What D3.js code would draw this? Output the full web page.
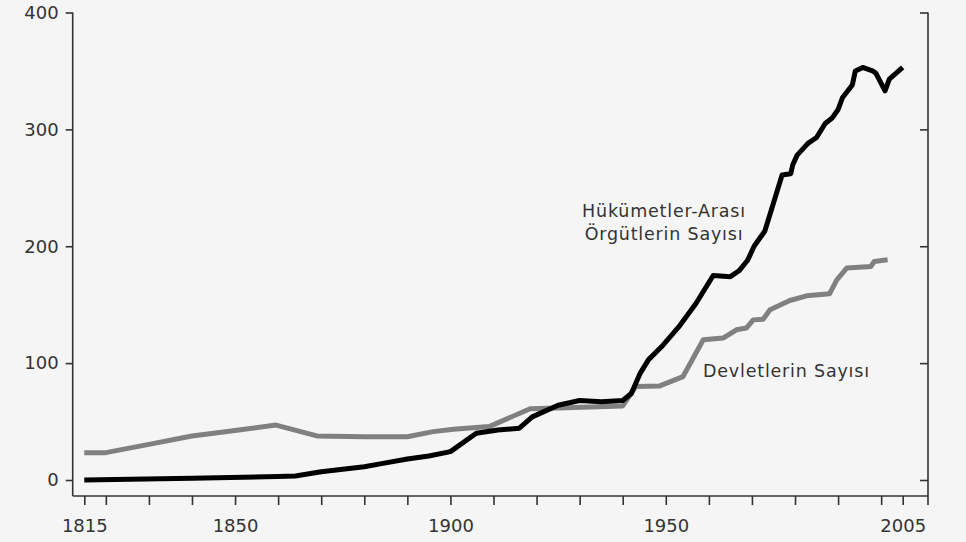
<!DOCTYPE html>
<html>
<head>
<meta charset="utf-8">
<script src="https://cdn.jsdelivr.net/npm/d3@7"></script>
<style>
  html, body { margin: 0; padding: 0; background: #f5f5f5; }
  svg { display: block; }
  .tick text { font-family: "DejaVu Sans", sans-serif; font-size: 18px; fill: #333; }
  .lbl { font-family: "DejaVu Sans", sans-serif; font-size: 17.5px; fill: #333; letter-spacing: 0.8px; }
</style>
</head>
<body>
<script>
// Hükümetler-arası örgütler (IGO)
const igoYears = [1815, 1840, 1860, 1864, 1870, 1880, 1884, 1890, 1895, 1900, 1906, 1911, 1916, 1919, 1925,
    1930, 1935, 1940, 1942, 1944, 1946, 1949, 1953, 1957, 1961, 1965, 1967, 1969, 1970.5, 1973, 1975, 1977,
    1979, 1979.5, 1980.5, 1983, 1985, 1987, 1988.7, 1990, 1991, 1993.3, 1994, 1995.7, 1998, 1998.8, 2000.9,
    2001.9, 2005];
const igoValues = [0, 1.4, 2.9, 3.4, 7, 11.4, 14, 18, 20.6, 24.3, 40, 42.8, 44.3, 54, 64,
    68, 67, 68, 74, 91, 103, 114, 131, 151, 175, 174, 179, 188, 200, 213, 237, 261,
    262, 270, 278, 288, 293, 305, 310, 317, 327, 338, 350, 353, 350, 348, 333,
    343, 353];

// Devletler
const stateYears = [1815, 1820, 1830, 1840, 1850, 1859.5, 1869, 1880, 1890, 1896, 1900.7, 1909, 1918.5, 1925,
    1940, 1943, 1948.6, 1954, 1958.7, 1963.3, 1966.4, 1968.7, 1970.3, 1972.6, 1974.2, 1978.8, 1982.7, 1988,
    1989.7, 1992, 1997.6, 1998.4, 2001.5];
const stateValues = [23.4, 23.4, 30.5, 37.7, 42.3, 47, 37.7, 37, 37, 41.4, 43.4, 45.7, 61, 61.5,
    63.4, 80, 80.5, 88.5, 120, 121.4, 128.5, 130, 137, 137.6, 145.6, 153.6, 157.6, 159.3,
    171.3, 181.3, 182.7, 187, 188.4];

const xTicks = [1815, 1820, 1830, 1840, 1850, 1860, 1870, 1880, 1890, 1900, 1910, 1920, 1930, 1940, 1950,
    1960, 1970, 1980, 1990, 2000, 2005];
const xLabels = [1815, 1850, 1900, 1950, 2005];
const yTicks = [0, 100, 200, 300, 400];

const W = 966, H = 542;
const fLeft = 72.7, fRight = 928, fTop = 12.5, fBottom = 496;

const svg = d3.select("body").append("svg").attr("width", W).attr("height", H);

const x = d3.scaleLinear().domain([1815, 2005]).range([84.3, 902.7]);
const y = d3.scaleLinear().domain([0, 400]).range([480, 12.5]);

// frame
const frame = svg.append("g").attr("stroke", "#333").attr("stroke-width", 1.6).attr("fill", "none");
frame.append("line").attr("x1", fLeft).attr("x2", fLeft).attr("y1", fTop).attr("y2", fBottom);
frame.append("line").attr("x1", fLeft).attr("x2", fRight).attr("y1", fBottom).attr("y2", fBottom);
frame.append("line").attr("x1", fRight).attr("x2", fRight).attr("y1", fTop).attr("y2", fBottom + 9);

const xAxis = d3.axisBottom(x)
    .tickValues(xTicks)
    .tickSize(9)
    .tickPadding(14)
    .tickFormat((d) => (xLabels.includes(d) ? d : ""));
svg.append("g").attr("transform", `translate(0,${fBottom})`).call(xAxis);

const yAxis = d3.axisLeft(y).tickValues(yTicks).tickSize(7).tickPadding(7);
svg.append("g").attr("transform", `translate(${fLeft},0)`).call(yAxis);

const yAxisR = d3.axisLeft(y).tickValues(yTicks).tickSize(8).tickFormat("");
svg.append("g").attr("transform", `translate(${fRight},0)`).call(yAxisR);

svg.selectAll(".domain").remove();
svg.selectAll(".tick line").attr("stroke", "#333").attr("stroke-width", 1.6);

const line = d3.line().x((d) => x(d[0])).y((d) => y(d[1]));

svg.append("path")
    .datum(d3.zip(stateYears, stateValues))
    .attr("d", line)
    .attr("fill", "none")
    .attr("stroke", "#808080")
    .attr("stroke-width", 5)
    .attr("stroke-linejoin", "round");

svg.append("path")
    .datum(d3.zip(igoYears, igoValues))
    .attr("d", line)
    .attr("fill", "none")
    .attr("stroke", "#000")
    .attr("stroke-width", 5)
    .attr("stroke-linejoin", "round");

// labels
svg.append("text").attr("class", "lbl").attr("x", 664).attr("y", 217)
    .attr("text-anchor", "middle").text("Hükümetler-Arası");
svg.append("text").attr("class", "lbl").attr("x", 664).attr("y", 239.5)
    .attr("text-anchor", "middle").text("Örgütlerin Sayısı");
svg.append("text").attr("class", "lbl").attr("x", 703).attr("y", 377)
    .text("Devletlerin Sayısı");
</script>
</body>
</html>
